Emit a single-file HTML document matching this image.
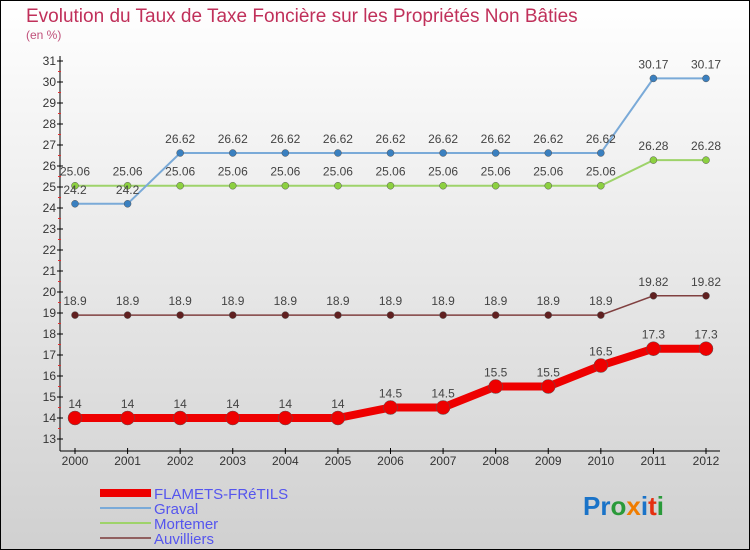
<!DOCTYPE html>
<html><head><meta charset="utf-8"><style>
html,body{margin:0;padding:0}
body{width:750px;height:550px;overflow:hidden;font-family:"Liberation Sans",sans-serif}
svg{display:block}
</style></head><body>
<svg width="750" height="550" xmlns="http://www.w3.org/2000/svg">
<defs><linearGradient id="bg" x1="0" y1="0" x2="0" y2="1"><stop offset="0" stop-color="#ffffff"/><stop offset="1" stop-color="#d0d0d0"/></linearGradient></defs>
<rect x="0.5" y="0.5" width="749" height="549" fill="url(#bg)" stroke="#000"/>
<text x="26" y="22" font-size="19" fill="#c0305a">Evolution du Taux de Taxe Foncière sur les Propriétés Non Bâties</text>
<text x="26" y="39" font-size="12" fill="#c0507a">(en %)</text>
<g id="axes"></g>
<g id="series"></g>
<g id="legend"></g>
<text x="583" y="515" font-size="26" font-weight="bold"><tspan fill="#1a73c8">Pr</tspan><tspan fill="#2a9a3a">o</tspan><tspan fill="#f07d00">x</tspan><tspan fill="#1a73c8">i</tspan><tspan fill="#e53010">t</tspan><tspan fill="#2a9a3a">i</tspan></text>
</svg>
<script>
const years=[2000,2001,2002,2003,2004,2005,2006,2007,2008,2009,2010,2011,2012];
const flamets=[14,14,14,14,14,14,14.5,14.5,15.5,15.5,16.5,17.3,17.3];
const graval=[24.2,24.2,26.62,26.62,26.62,26.62,26.62,26.62,26.62,26.62,26.62,30.17,30.17];
const mortemer=[25.06,25.06,25.06,25.06,25.06,25.06,25.06,25.06,25.06,25.06,25.06,26.28,26.28];
const auvilliers=[18.9,18.9,18.9,18.9,18.9,18.9,18.9,18.9,18.9,18.9,18.9,19.82,19.82];
const yTicks=[13,14,15,16,17,18,19,20,21,22,23,24,25,26,27,28,29,30,31];
const NS="http://www.w3.org/2000/svg";
const xs=i=>75+i*(706-75)/(years.length-1);
const ys=v=>439-(v-13)*(439-61)/18;
function mk(t,a,p){const e=document.createElementNS(NS,t);for(const k in a)e.setAttribute(k,a[k]);p.appendChild(e);return e;}
const ax=document.getElementById('axes');
let l=mk('line',{x1:60,y1:56,x2:60,y2:451,stroke:'#000'},ax);


l=mk('line',{x1:60,y1:451,x2:720,y2:451,stroke:'#000'},ax);


yTicks.forEach(v=>{const y=ys(v);
 mk('line',{x1:57,y1:y,x2:63,y2:y,stroke:'#000'},ax);
 if(v<31)mk('line',{x1:58,y1:ys(v+0.5),x2:61,y2:ys(v+0.5),stroke:'#e03030'},ax);
 const t=mk('text',{x:56,y:y+4,'font-size':12,'text-anchor':'end',fill:'#333'},ax);t.textContent=v;
 
 });
years.forEach((yr,i)=>{const x=xs(i);
 mk('line',{x1:x,y1:448,x2:x,y2:454,stroke:'#000'},ax);
 const t=mk('text',{x:x,y:465,'font-size':12,'text-anchor':'middle',fill:'#333'},ax);t.textContent=yr;
 
 });
const sg=document.getElementById('series');
function series(name,data,color,w,r,dot,lab){
 const g=mk('g',{},sg);
 
 
 mk('polyline',{points:data.map((v,i)=>xs(i)+','+ys(v)).join(' '),fill:'none',stroke:color,'stroke-width':w},g);
 data.forEach((v,i)=>{const c=mk('circle',{cx:xs(i),cy:ys(v),r:r,fill:dot,stroke:'#555','stroke-width':0.5},g);
  
  
  const t=mk('text',{x:xs(i),y:ys(v)-lab,'font-size':12,'text-anchor':'middle',fill:'#444'},g);t.textContent=v;});
}
series('mortemer',mortemer,'#9ed36a',2,3.5,'#8cd040',10);
series('graval',graval,'#7aaad8',2,3.5,'#3a80c0',10);
series('auvilliers',auvilliers,'#804040',1.5,3.5,'#602020',10);
series('flamets-fretils',flamets,'#ee0000',8,7,'#ee0000',10);
const lg=document.getElementById('legend');
[['FLAMETS-FRéTILS','#ee0000',8],['Graval','#7aaad8',2],['Mortemer','#9ed36a',2],['Auvilliers','#906060',2]].forEach((d,i)=>{
 const y=493+i*15;
 const g=mk('g',{},lg);
 
 
 mk('line',{x1:100,y1:y,x2:151,y2:y,stroke:d[1],'stroke-width':d[2]},g);
 const t=mk('text',{x:154,y:y+6,'font-size':15,fill:'#5555ee'},g);t.textContent=d[0];});
</script>
</body></html>
